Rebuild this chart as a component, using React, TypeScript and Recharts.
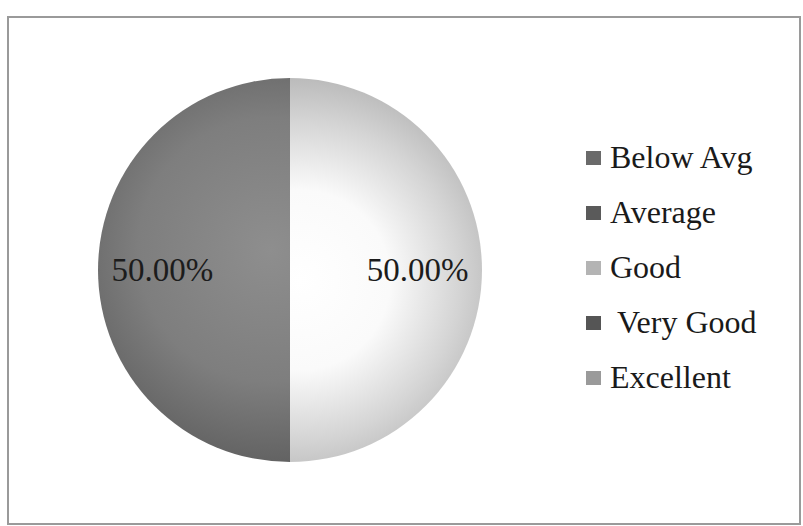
import React from "react";
import { PieChart, Pie, Cell, Legend } from "recharts";

const categories = ["Below Avg", "Average", "Good", "Very Good", "Excellent"];
const values = [0, 0, 50, 50, 0];
const legendColors = ["#6a6a6a", "#5a5a5a", "#b4b4b4", "#555555", "#9a9a9a"];
const sliceFills = [
  "#6a6a6a",
  "#5a5a5a",
  "url(#goodGrad)",
  "url(#veryGoodGrad)",
  "#9a9a9a",
];

const data = categories.map((name, i) => ({ name, value: values[i] }));

const SERIF = "'Times New Roman', 'Liberation Serif', Tinos, 'DejaVu Serif', serif";
const RADIAN = Math.PI / 180;

function renderLabel(props: any) {
  const { cx, cy, midAngle, outerRadius, percent, value } = props;
  if (!value) return null;
  const r = outerRadius * 0.665;
  const x = cx + r * Math.cos(-midAngle * RADIAN);
  const y = cy + r * Math.sin(-midAngle * RADIAN);
  return (
    <text
      x={x}
      y={y}
      textAnchor="middle"
      dominantBaseline="central"
      style={{ fontFamily: SERIF, fontSize: 33 }}
      fill="#1c1c1c"
    >
      {(percent * 100).toFixed(2) + "%"}
    </text>
  );
}

function LegendList(props: any) {
  const payload = [...(props.payload || [])].sort(
    (a: any, b: any) => categories.indexOf(a.value) - categories.indexOf(b.value)
  );
  return (
    <div style={{ fontFamily: SERIF, color: "#1a1a1a" }}>
      {payload.map((p: any) => {
        const i = categories.indexOf(p.value);
        return (
          <div
            key={p.value}
            style={{ display: "flex", alignItems: "center", height: 55 }}
          >
            <span
              style={{
                width: 15,
                height: 14,
                background: legendColors[i],
                display: "inline-block",
                marginRight: i === 3 ? 16 : 9,
              }}
            />
            <span style={{ fontSize: 32, whiteSpace: "nowrap" }}>{p.value}</span>
          </div>
        );
      })}
    </div>
  );
}

export default function App() {
  return (
    <div
      style={{
        position: "absolute",
        left: 0,
        top: 0,
        width: 803,
        height: 526,
        background: "#ffffff",
      }}
    >
      <div
        style={{
          position: "absolute",
          left: 7,
          top: 16,
          width: 790,
          height: 505,
          border: "2px solid #9a9a9a",
        }}
      />
      <PieChart
        width={803}
        height={526}
        margin={{ top: 0, right: 0, bottom: 0, left: 0 }}
        style={{ position: "absolute", left: 0, top: 0 }}
      >
        <defs>
          <radialGradient id="goodGrad" cx="300" cy="280" r="200" gradientUnits="userSpaceOnUse">
            <stop offset="0%" stopColor="#ffffff" />
            <stop offset="45%" stopColor="#fafafa" />
            <stop offset="80%" stopColor="#d4d4d4" />
            <stop offset="100%" stopColor="#bcbcbc" />
          </radialGradient>
          <radialGradient id="veryGoodGrad" cx="270" cy="250" r="220" gradientUnits="userSpaceOnUse">
            <stop offset="0%" stopColor="#8e8e8e" />
            <stop offset="60%" stopColor="#7e7e7e" />
            <stop offset="100%" stopColor="#606060" />
          </radialGradient>
        </defs>
        <Pie
          data={data}
          dataKey="value"
          nameKey="name"
          cx={290}
          cy={270}
          outerRadius={192}
          startAngle={90}
          endAngle={-270}
          stroke="none"
          label={renderLabel}
          labelLine={false}
          isAnimationActive={false}
        >
          {data.map((d, i) => (
            <Cell key={d.name} fill={sliceFills[i]} stroke="none" />
          ))}
        </Pie>
        <Legend
          layout="vertical"
          content={LegendList}
          wrapperStyle={{ position: "absolute", left: 586, top: 130, width: 210 }}
        />
      </PieChart>
    </div>
  );
}
